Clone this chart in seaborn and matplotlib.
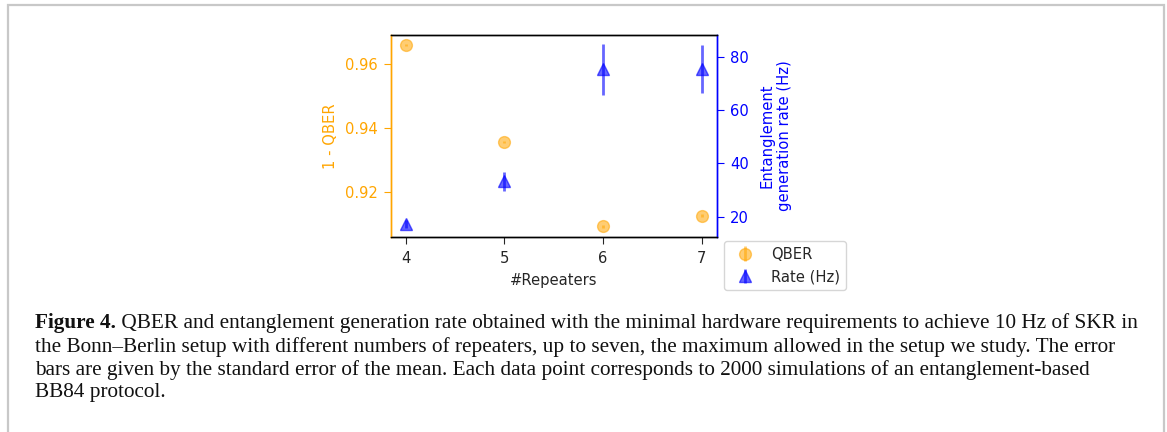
import matplotlib
matplotlib.use("Agg")
import matplotlib.pyplot as plt
import seaborn as sns
import numpy as np
from matplotlib.patches import Rectangle

# ---- data ----
repeaters = [4, 5, 6, 7]
one_minus_qber = [0.9658, 0.9355, 0.9092, 0.9125]
qber_err = [0.0004, 0.0004, 0.0004, 0.0004]
rate_hz = [17.3, 33.3, 75.2, 75.3]
rate_err = [1.4, 3.6, 9.6, 9.1]

caption_bold = "Figure 4."
caption_lines = [
    " QBER and entanglement generation rate obtained with the minimal hardware requirements to achieve 10 Hz of SKR in",
    "the Bonn\u2013Berlin setup with different numbers of repeaters, up to seven, the maximum allowed in the setup we study. The error",
    "bars are given by the standard error of the mean. Each data point corresponds to 2000 simulations of an entanglement-based",
    "BB84 protocol.",
]

sns.set_style("ticks")
plt.rcParams['font.family'] = ['DejaVu Sans']

FS = 10.6
W, H = 1167, 432
fig = plt.figure(figsize=(W / 100, H / 100), dpi=100)

def fx(px):
    return px / W

def fy(py):
    return 1 - py / H

ax = fig.add_axes([fx(390.7), fy(236.7), fx(716.7) - fx(390.7), fy(34.7) - fy(236.7)])
ax2 = ax.twinx()

eb1 = ax.errorbar(repeaters, one_minus_qber, yerr=qber_err, fmt='o', color='orange',
                  alpha=0.55, markersize=8.5, elinewidth=2, label='QBER')
eb2 = ax2.errorbar(repeaters, rate_hz, yerr=rate_err, fmt='^', color='blue',
                   alpha=0.6, markersize=8, elinewidth=2, label='Rate (Hz)')

ax.set_xticks(repeaters)
ax.set_xlabel("#Repeaters", fontsize=FS, labelpad=5)
ax.set_ylabel("1 - QBER", color='orange', fontsize=FS, labelpad=5)
ax2.set_ylabel("Entanglement\ngeneration rate (Hz)", color='blue', fontsize=FS, labelpad=8)
ax.set_yticks([0.92, 0.94, 0.96])
ax2.set_yticks([20, 40, 60, 80])
ax.tick_params(axis='y', colors='orange', labelsize=FS, length=5, pad=4.5)
ax.tick_params(axis='x', labelsize=FS, length=5, pad=5)
ax2.tick_params(axis='y', colors='blue', labelsize=FS, length=5, pad=4.5)
for a in (ax, ax2):
    a.spines['left'].set_color('orange')
    a.spines['right'].set_color('blue')
    a.spines['top'].set_visible(True)
    a.spines['right'].set_visible(True)
    a.spines['top'].set_color('black')
    a.spines['bottom'].set_color('black')
    for s in a.spines.values():
        s.set_linewidth(1.0)

ax2.legend([eb1, eb2], ['QBER', 'Rate (Hz)'], loc='upper left',
           bbox_to_anchor=(fx(724), fy(241)), bbox_transform=fig.transFigure,
           borderaxespad=0, fontsize=FS, frameon=True)

# ---- border frame ----
fig.add_artist(Rectangle((fx(7.5), fy(460)), fx(1163.5) - fx(7.5), fy(5) - fy(460),
                         transform=fig.transFigure, fill=False,
                         edgecolor='#c8c8c8', linewidth=1.6, clip_on=False))

# ---- caption ----
fig.canvas.draw()
renderer = fig.canvas.get_renderer()
serif = ['Liberation Serif', 'DejaVu Serif']
probe = fig.text(0, 0, caption_lines[1], fontsize=10, family=serif)
w10 = probe.get_window_extent(renderer).width
probe.remove()
fs = 10 * (1113 - 35) / w10

x0 = fx(35)
ys = [323, 347, 370, 393]
tb = fig.text(x0, fy(ys[0]), caption_bold, fontsize=fs, family=serif,
              weight='bold', va='center', color='#111111')
wb = tb.get_window_extent(renderer).width
fig.text(fx(35 + wb), fy(ys[0]), caption_lines[0], fontsize=fs, family=serif,
         va='center', color='#111111')
for line, yy in zip(caption_lines[1:], ys[1:]):
    fig.text(x0, fy(yy), line, fontsize=fs, family=serif, va='center', color='#111111')

fig.savefig("out.png", dpi=100)
